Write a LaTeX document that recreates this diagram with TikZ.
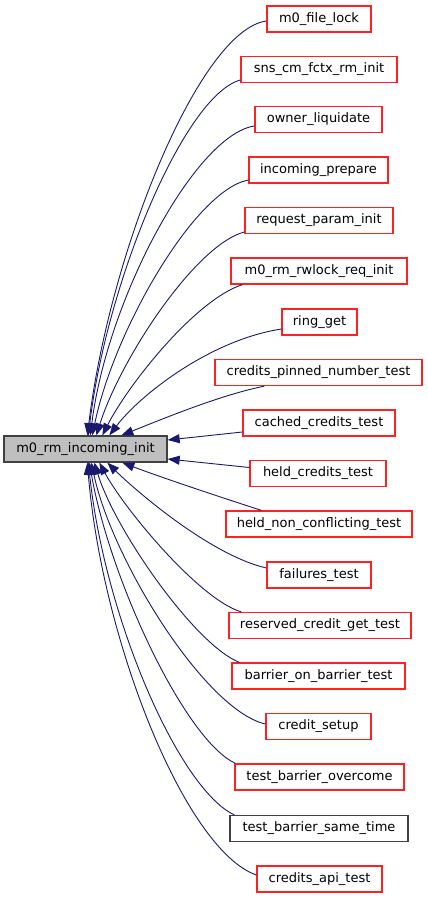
\documentclass[tikz,border=0pt]{standalone}
\usepackage{fontspec}
\setmainfont{DejaVu Sans}
\usetikzlibrary{arrows.meta,calc}
\definecolor{edgec}{HTML}{191970}
\definecolor{nodegrey}{HTML}{BFBFBF}
\definecolor{fnred}{HTML}{FF2020}
\definecolor{fndark}{HTML}{404040}
\begin{document}
\begin{tikzpicture}[x=1pt,y=-1pt,
  base/.style={line width=1.3pt, minimum height=26pt, inner sep=0pt, text=black,
    font=\fontsize{13}{15}\selectfont},
  fn/.style={base, draw=fnred},
  fnb/.style={base, draw=fndark},
  root/.style={base, draw=fndark, fill=nodegrey},
  edge/.style={draw=edgec, line width=0.9pt, -{Triangle[length=12pt,width=9pt]}, fill=none},
]
\useasboundingbox (0,0) rectangle (428,899);
\node[root, minimum width=163pt] (m) at (85.5,449) {m0\_rm\_incoming\_init};

\node[fn, minimum width=104pt] (n1) at (319,19) {m0\_file\_lock};
\node[fn, minimum width=156pt] (n2) at (319,69.5) {sns\_cm\_fctx\_rm\_init};
\node[fn, minimum width=127pt] (n3) at (318.5,119.5) {owner\_liquidate};
\node[fn, minimum width=139pt] (n4) at (318.5,170) {incoming\_prepare};
\node[fn, minimum width=148pt] (n5) at (319,220.5) {request\_param\_init};
\node[fn, minimum width=176pt] (n6) at (319,271) {m0\_rm\_rwlock\_req\_init};
\node[fn, minimum width=75pt] (n7) at (319.5,322) {ring\_get};
\node[fn, minimum width=207pt] (n8) at (318.5,372.5) {credits\_pinned\_number\_test};
\node[fn, minimum width=152pt] (n9) at (319,423) {cached\_credits\_test};
\node[fn, minimum width=136pt] (n10) at (318,473.5) {held\_credits\_test};
\node[fn, minimum width=186pt] (n11) at (319,524) {held\_non\_conflicting\_test};
\node[fn, minimum width=104pt] (n12) at (319,575) {failures\_test};
\node[fn, minimum width=182pt] (n13) at (320,625.5) {reserved\_credit\_get\_test};
\node[fn, minimum width=173pt] (n14) at (318.5,676) {barrier\_on\_barrier\_test};
\node[fn, minimum width=105pt] (n15) at (318.5,726.5) {credit\_setup};
\node[fn, minimum width=169pt] (n16) at (319.5,777) {test\_barrier\_overcome};
\node[fnb, minimum width=178pt] (n17) at (319,828.5) {test\_barrier\_same\_time};
\node[fn, minimum width=125pt] (n18) at (319.5,879) {credits\_api\_test};

% edges (tail at caller, arrow at m)
\draw[edge] ($(n1.west)+(0,2)$) .. controls (200,30) and (110,250) .. ($(m.north west)+(84,0)$);
\draw[edge] ($(n2.west)+(0,10.5)$) .. controls (185,95) and (107,280) .. ($(m.north west)+(85,0)$);
\draw[edge] ($(n3.west)+(0,6.5)$) .. controls (195,135) and (107,300) .. ($(m.north west)+(87,0)$);
\draw[edge] ($(n4.west)+(0,10)$) .. controls (195,190) and (114,330) .. ($(m.north west)+(89,0)$);
\draw[edge] ($(n5.west)+(0,11.5)$) .. controls (195,245) and (120,360) .. ($(m.north west)+(93,0)$);
\draw[edge] ($(n6.south west)+(12,0)$) .. controls (195,300) and (128,385) .. ($(m.north west)+(99,0)$);
\draw[edge] ($(n7.west)+(0,7)$) .. controls (210,340) and (140,395) .. ($(m.north west)+(106,0)$);
\draw[edge] ($(n8.south west)+(50,0)$) .. controls (220,395) and (160,420) .. ($(m.north west)+(118,0)$);
\draw[edge] ($(n9.west)+(0,9)$) -- ($(m.east)+(0,-9)$);
\draw[edge] ($(n10.west)+(0,-6)$) -- ($(m.east)+(0,10)$);
\draw[edge] ($(n11.north west)+(36,0)$) .. controls (220,497) and (160,477) .. ($(m.south west)+(119,0)$);
\draw[edge] ($(n12.west)+(0,-7)$) .. controls (210,555) and (135,490) .. ($(m.south west)+(104,0)$);
\draw[edge] ($(n13.north west)+(13,0)$) .. controls (200,600) and (125,510) .. ($(m.south west)+(96,0)$);
\draw[edge] ($(n14.north west)+(8,0)$) .. controls (195,645) and (115,530) .. ($(m.south west)+(91,0)$);
\draw[edge] ($(n15.west)+(0,-2.5)$) .. controls (205,710) and (112,560) .. ($(m.south west)+(88,0)$);
\draw[edge] ($(n16.north west)+(1,0)$) .. controls (185,740) and (110,580) .. ($(m.south west)+(86,0)$);
\draw[edge] ($(n17.north west)+(5,0)$) .. controls (180,790) and (105,620) .. ($(m.south west)+(85,0)$);
\draw[edge] ($(n18.west)+(0,-4)$) .. controls (185,850) and (102,640) .. ($(m.south west)+(84,0)$);
\end{tikzpicture}
\end{document}
